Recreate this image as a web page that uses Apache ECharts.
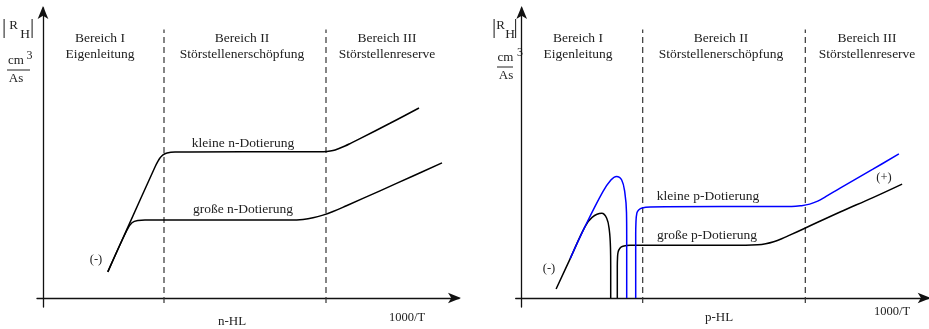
<!DOCTYPE html>
<html>
<head>
<meta charset="utf-8">
<script src="https://cdn.jsdelivr.net/npm/echarts@6/dist/echarts.min.js"></script>
<style>html,body{margin:0;padding:0;background:#fff}#c{width:929px;height:329px}</style>
</head>
<body>
<div id="c"></div>
<script>
// ---- data (arbitrary units) ----
const nSmall = [[16.2,5.8],[21,15.3],[28,29.1],[28.75,30.4],[29.25,31.1],[30,31.8],[31,32.2],[33,32.4],[50,32.5],[69,32.5],[71,32.55],[72.5,32.75],[74,33.2],[75.5,33.75],[77,34.4],[79.25,35.4],[86.75,38.8],[94,42.2]];
const nLarge = [[16.2,5.8],[21,15.1],[22.25,16.7],[23.75,17.2],[25.5,17.3],[45,17.3],[62,17.3],[65,17.45],[67.5,17.8],[70,18.4],[72.5,19.2],[76,20.55],[84.25,23.8],[92.5,27.1],[99.75,30.0]];
const pSmallA = [[12.1,8.7],[15.8,15.8],[20.3,23.6],[22.3,26.2],[23.7,27.0],[25,26.2],[25.8,23.3],[26.2,19],[26.25,14],[26.25,0]];
const pSmallB = [[28.5,0],[28.5,14],[28.55,16.5],[28.8,18.9],[29.3,19.6],[30.1,20.0],[32.1,20.2],[50,20.3],[67.5,20.3],[70,20.5],[72,20.85],[74,21.5],[76,22.5],[79.6,24.4],[87.8,28.6],[94.3,32.0]];
const pLargeA = [[8.6,2.0],[12.1,8.7],[15.8,15.8],[17.6,17.9],[20,18.8],[21.25,17.7],[21.9,15.1],[22.2,11],[22.25,7],[22.25,0]];
const pLargeB = [[23.9,0],[23.9,7],[23.95,8.8],[24.1,10.2],[24.6,11.1],[25.3,11.5],[27.1,11.7],[45,11.7],[56,11.7],[59,11.8],[61,12.05],[63,12.5],[65,13.15],[67,13.95],[70.8,15.5],[79.6,19.1],[87.8,22.3],[95.1,25.3]];
const boundsN = [30.25, 70.75];
const boundsP = [30.25, 70.9];
const regionTitles = ['Bereich I', 'Bereich II', 'Bereich III'];
const regionNames = ['Eigenleitung', 'Störstellenerschöpfung', 'Störstellenreserve'];
const curveLabelsN = ['kleine n-Dotierung', 'große n-Dotierung'];
const curveLabelsP = ['kleine p-Dotierung', 'große p-Dotierung'];
const axisNames = ['n-HL', 'p-HL', '1000/T'];

const FONT = '"Liberation Serif", "Times New Roman", serif';
const TXT = '#222';
const chart = echarts.init(document.getElementById('c'), null, {renderer: 'canvas'});

function axisLine() {
  return {show: true, onZero: true, symbol: ['none', 'arrow'], symbolSize: [8, 13], symbolOffset: [0, 2],
          lineStyle: {color: '#111', width: 1.3}};
}
function xAx(idx, max) {
  return {type: 'value', gridIndex: idx, min: -1.5, max: max, axisLine: axisLine(),
          axisTick: {show: false}, axisLabel: {show: false}, splitLine: {show: false}};
}
function yAx(idx) {
  return {type: 'value', gridIndex: idx, min: -2, max: 64.4, axisLine: axisLine(),
          axisTick: {show: false}, axisLabel: {show: false}, splitLine: {show: false}};
}
function curve(idx, data, color) {
  return {type: 'line', xAxisIndex: idx, yAxisIndex: idx, data: data, showSymbol: false, smooth: 0.4,
          lineStyle: {color: color, width: 1.5}, silent: true, animation: false, z: 3};
}
function dash(idx, x) {
  return {type: 'line', xAxisIndex: idx, yAxisIndex: idx, data: [[x, -1.1], [x, 59.6]], showSymbol: false,
          lineStyle: {color: '#333', width: 1.2, type: [6, 4]}, silent: true, animation: false, z: 2};
}
function txt(x, y, s, size, align) {
  return {type: 'text', x: x, y: y, silent: true,
          style: {text: s, fontSize: size, fontFamily: FONT, fill: TXT, align: align || 'center', verticalAlign: 'middle'}};
}
// p = positions {b1, r, h, b2, cm, c3, l1, l2, ly, as}
function unitLabel(p) {
  return [
    txt(p.b1, 27, '|', 21),
    txt(p.r, 25.5, 'R', 13),
    txt(p.h, 34.5, 'H', 13.5),
    txt(p.b2, 27, '|', 21),
    txt(p.cm, p.ly - 9, 'cm', 13),
    txt(p.c3, p.ly - 14, '3', 12),
    {type: 'line', silent: true, shape: {x1: p.l1, y1: p.ly, x2: p.l2, y2: p.ly}, style: {stroke: '#222', lineWidth: 1}},
    txt(p.as, p.ly + 9, 'As', 13)
  ];
}

const regionCentersN = [100, 242, 387];
const regionCentersP = [578, 721, 867];
let graphics = [];
regionTitles.forEach((t, i) => {
  graphics.push(txt(regionCentersN[i], 38, t, 13.5));
  graphics.push(txt(regionCentersN[i], 54, regionNames[i], 13.5));
  graphics.push(txt(regionCentersP[i], 38, t, 13.5));
  graphics.push(txt(regionCentersP[i], 54, regionNames[i], 13.5));
});
graphics.push(txt(243, 143, curveLabelsN[0], 13.5));
graphics.push(txt(243, 209, curveLabelsN[1], 13.5));
graphics.push(txt(708, 196, curveLabelsP[0], 13.5));
graphics.push(txt(707, 235, curveLabelsP[1], 13.5));
graphics.push(txt(96, 260, '(-)', 12.5));
graphics.push(txt(549, 269, '(-)', 12.5));
graphics.push(txt(884, 178, '(+)', 12.5));
graphics.push(txt(232, 322, axisNames[0], 13));
graphics.push(txt(719, 318, axisNames[1], 13));
graphics.push(txt(407, 318, axisNames[2], 12.5));
graphics.push(txt(892, 312, axisNames[2], 12.5));
graphics = graphics.concat(unitLabel({b1: 4, r: 13.5, h: 25, b2: 32, cm: 16, c3: 29.5, l1: 7, l2: 30, ly: 70, as: 16}));
graphics = graphics.concat(unitLabel({b1: 494, r: 500.5, h: 510, b2: 515.5, cm: 505.5, c3: 520, l1: 497, l2: 513, ly: 67, as: 506}));

chart.setOption({
  animation: false,
  backgroundColor: '#fff',
  textStyle: {fontFamily: FONT},
  grid: [
    {left: 37, top: 8, width: 422, height: 299},
    {left: 515.7, top: 8, width: 413, height: 299}
  ],
  xAxis: [xAx(0, 104), xAx(1, 101.75)],
  yAxis: [yAx(0), yAx(1)],
  series: [
    dash(0, boundsN[0]), dash(0, boundsN[1]),
    dash(1, boundsP[0]), dash(1, boundsP[1]),
    curve(0, nSmall, '#000'), curve(0, nLarge, '#000'),
    curve(1, pLargeA, '#000'), curve(1, pLargeB, '#000'),
    curve(1, pSmallA, '#0000ff'), curve(1, pSmallB, '#0000ff')
  ],
  graphic: graphics
});
</script>
</body>
</html>
